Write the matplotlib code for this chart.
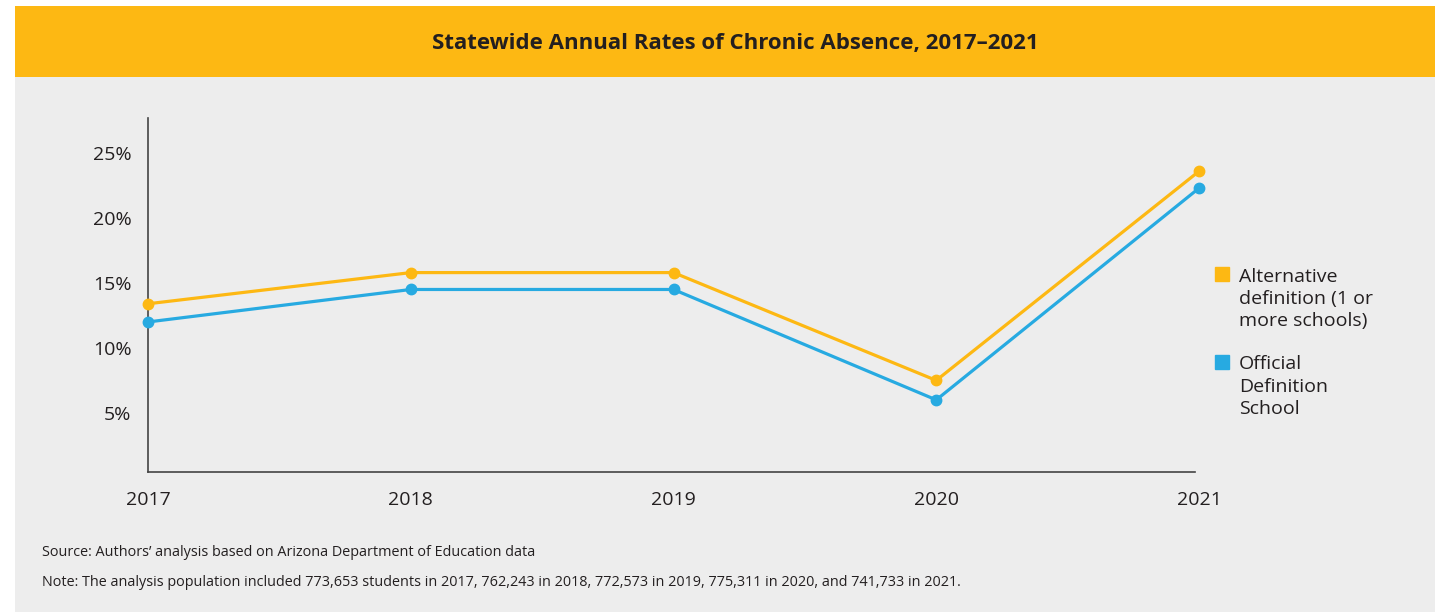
# Statewide chronic absence rates chart

import matplotlib
matplotlib.use("Agg")
from matplotlib import pyplot as plt
from matplotlib.lines import Line2D
from matplotlib.patches import Rectangle
from matplotlib.ticker import FuncFormatter
from matplotlib.legend_handler import HandlerLine2D

years = [2017, 2018, 2019, 2020, 2021]
alt_rates = [13.4, 15.8, 15.8, 7.5, 23.6]
official_rates = [12.0, 14.5, 14.5, 6.0, 22.3]
y_ticks = [5, 10, 15, 20, 25]

title = "Statewide Annual Rates of Chronic Absence, 2017\u20132021"
alt_label = "Alternative\ndefinition (1 or\nmore schools)"
official_label = "Official\nDefinition\nSchool"
source_text = "Source: Authors\u2019 analysis based on Arizona Department of Education data"
note_text = ("Note: The analysis population included 773,653 students in 2017, 762,243 in 2018, "
             "772,573 in 2019, 775,311 in 2020, and 741,733 in 2021.")

orange = "#FDB813"
blue = "#27AAE1"
gray_bg = "#EDEDED"
text_c = "#231F20"

W, H = 1435, 612
plt.rcParams["font.family"] = ["Open Sans", "DejaVu Sans"]
LSP = 1.3


# legend marker sits on the first line of a 3-line label
class TopHandler(HandlerLine2D):
    def create_artists(self, legend, orig_handle, xdescent, ydescent, width, height,
                       fontsize, trans):
        arts = super().create_artists(legend, orig_handle, xdescent, ydescent, width,
                                      height, fontsize, trans)
        for a in arts:
            a.set_ydata([y + fontsize * LSP for y in a.get_ydata()])
        return arts


fig = plt.figure(figsize=(W / 100, H / 100), dpi=100)
fig.patch.set_facecolor("white")

# panel backgrounds
fig.patches.append(Rectangle((15 / W, 0), 1 - 15 / W, 1 - 6 / H, transform=fig.transFigure,
                             facecolor=gray_bg, edgecolor="none", zorder=-2))
fig.patches.append(Rectangle((15 / W, 1 - 77 / H), 1 - 15 / W, 71 / H, transform=fig.transFigure,
                             facecolor=orange, edgecolor="none", zorder=-1))
fig.text(735 / W, 1 - 43 / H, title, ha="center", va="center", fontsize=16,
         fontweight="bold", color=text_c)

# axes placed by pixel
ax = fig.add_axes([148 / W, (H - 472) / H, (1199 - 148) / W, (472 - 118) / H])
ax.set_facecolor("none")
ax.plot(years, alt_rates, color=orange, lw=2.3, marker="o", ms=7.5, clip_on=False, zorder=3)
ax.plot(years, official_rates, color=blue, lw=2.3, marker="o", ms=7.5, clip_on=False, zorder=3)

ax.set_xlim(2017, 2021)
ax.set_ylim(0.45, 27.7)
ax.set_xticks(years)
ax.set_yticks(y_ticks)
ax.yaxis.set_major_formatter(FuncFormatter(lambda v, p: "%d%%" % v))
ax.tick_params(length=0, labelsize=14, colors=text_c)
ax.tick_params(axis="x", pad=14)
ax.tick_params(axis="y", pad=12)
for s in ["top", "right"]:
    ax.spines[s].set_visible(False)
for s in ["left", "bottom"]:
    ax.spines[s].set_color("#444444")
    ax.spines[s].set_linewidth(1.2)
ax.spines["bottom"].set_bounds(2017, 2020.985)

handles = [Line2D([], [], ls="none", marker="s", ms=10, color=orange),
           Line2D([], [], ls="none", marker="s", ms=10, color=blue)]
leg = fig.legend(handles, [alt_label, official_label], loc="upper left",
                 bbox_to_anchor=(1204 / W, 1 - 258 / H), frameon=False, fontsize=14,
                 handlelength=0.8, handletextpad=0.5, labelspacing=1.3, borderpad=0,
                 labelcolor=text_c, handler_map={Line2D: TopHandler()})
for t in leg.get_texts():
    t.set_linespacing(LSP)

fig.text(42 / W, 1 - 552 / H, source_text, ha="left", va="center", fontsize=10.4, color=text_c)
fig.text(42 / W, 1 - 582 / H, note_text, ha="left", va="center", fontsize=10.4, color=text_c)

plt.savefig("out.png", dpi=100)
plt.close()
